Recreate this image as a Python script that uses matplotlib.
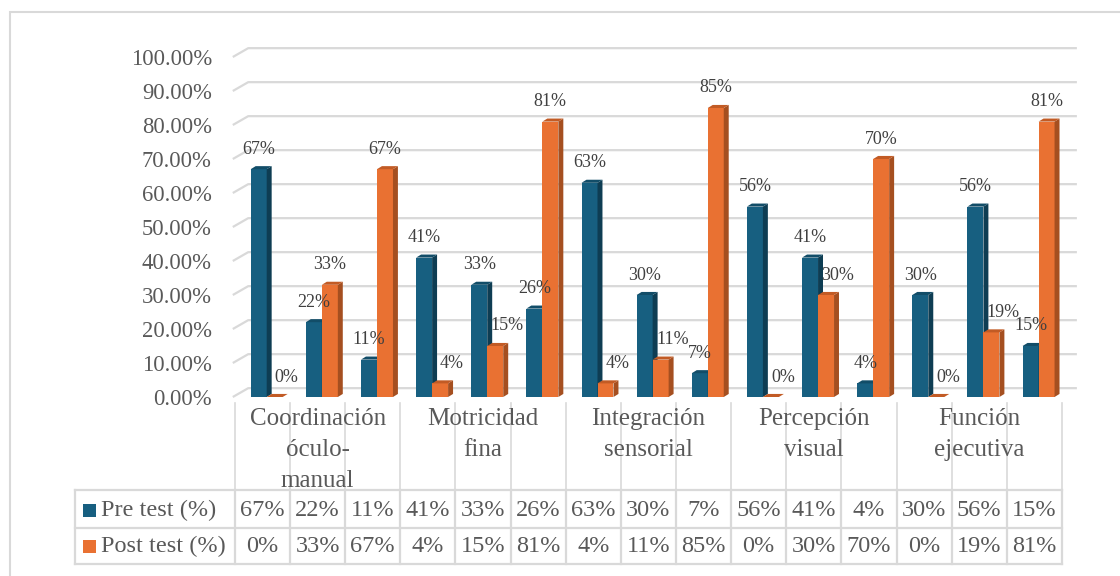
import numpy as np
import matplotlib
matplotlib.use("Agg")
import matplotlib.pyplot as plt
from matplotlib.patches import Rectangle, Polygon

plt.rcParams['font.family'] = ['Liberation Serif', 'DejaVu Serif']

groups = ["Coordinación\nóculo-\nmanual", "Motricidad\nfina", "Integración\nsensorial",
          "Percepción\nvisual", "Función\nejecutiva"]
pre_test = [67, 22, 11, 41, 33, 26, 63, 30, 7, 56, 41, 4, 30, 56, 15]
post_test = [0, 33, 67, 4, 15, 81, 4, 11, 85, 0, 30, 70, 0, 19, 81]
series_names = ["Pre test (%)", "Post test (%)"]
y_ticks = [0, 10, 20, 30, 40, 50, 60, 70, 80, 90, 100]

W, H = 1120, 576
TXT = "#595959"
GRID = "#d9d9d9"
blue = ("#175f80", "#0e3d53", "#124d68")
orange = ("#e97132", "#a54f20", "#c25b25")

fig = plt.figure(figsize=(W / 100, H / 100), dpi=100)

# outer chart frame (cut off at right and bottom like the reference)
fig.patches.append(Rectangle((10 / W, -0.2), 1.3, 1.2 - 12 / H, transform=fig.transFigure,
                             fill=False, edgecolor=GRID, lw=1.5))

ax = fig.add_axes([235 / W, 1 - 397 / H, 827 / W, 340 / H])
ax.set_xlim(0, 15)
ax.set_ylim(0, 100)
ax.axis("off")

# wall gridlines with the perspective slant at the left
for v in y_ticks:
    ax.plot([-0.04, 0.24, 15.27], [v, v + 2.6, v + 2.6], color=GRID, lw=1.6,
            clip_on=False, zorder=1, solid_capstyle="butt")
    ax.text(-0.42, v - 0.8, f"{v:.2f}%", ha="right", va="center", fontsize=16.3, color=TXT)

n = len(pre_test)
x = np.arange(n) + 0.5
bw = 0.29
shift = 0.075
ddx, ddy = 0.09, 0.9


def bar3d(left, val, cols, z):
    ax.bar(left, val, width=bw, align="edge", color=cols[0], zorder=z, linewidth=0)
    r = left + bw
    ax.add_patch(Polygon([(r, 0), (r + ddx, ddy), (r + ddx, val + ddy), (r, val)],
                         closed=True, color=cols[1], zorder=z, lw=0))
    ax.add_patch(Polygon([(left, val), (left + ddx, val + ddy), (r + ddx, val + ddy), (r, val)],
                         closed=True, color=cols[2], zorder=z, lw=0))


for i in range(n):
    bl = x[i] + shift - bw
    ol = x[i] + shift
    bar3d(bl, pre_test[i], blue, 3 + i * 2)
    bar3d(ol, post_test[i], orange, 4 + i * 2)
    ax.annotate(f"{pre_test[i]}%", (bl + bw / 2, pre_test[i]), xytext=(0, 20),
                textcoords="offset pixels", ha="center", va="center", fontsize=13,
                color="#404040", zorder=50)
    dx = 12 if post_test[i] < pre_test[i] else 0
    ax.annotate(f"{post_test[i]}%", (ol + bw / 2, post_test[i]), xytext=(dx, 20),
                textcoords="offset pixels", ha="center", va="center", fontsize=13,
                color="#404040", zorder=50)

# data table and category labels
tab = fig.add_axes([75 / W, 1 - 566 / H, 987 / W, 166 / H])
tab.set_xlim(-2.9, 15)
tab.set_ylim(566, 400)
tab.axis("off")

for k in range(16):
    tab.plot([k, k], [403, 490], color=GRID, lw=1.2, clip_on=False)
for k in [-2.9] + list(range(16)):
    tab.plot([k, k], [490, 564], color=GRID, lw=1.6, clip_on=False)
for yy in [490, 528, 564]:
    tab.plot([-2.9, 15], [yy, yy], color=GRID, lw=1.6, clip_on=False)

for g, name in enumerate(groups):
    tab.text(g * 3 + 1.5, 408, name, ha="center", va="top", fontsize=18,
             color=TXT, linespacing=1.52)

rows_y = [510, 546]
for r, (vals, cols, label) in enumerate(zip([pre_test, post_test], [blue, orange], series_names)):
    tab.add_patch(Rectangle((-2.757, rows_y[r] - 6.5), 0.24, 13, color=cols[0], lw=0))
    tab.text(-2.43, rows_y[r], label, ha="left", va="center", fontsize=17.5, color=TXT)
    for i, v in enumerate(vals):
        tab.text(i + 0.5, rows_y[r], f"{v}%", ha="center", va="center", fontsize=17.5, color=TXT)

fig.savefig("out.png", dpi=100, facecolor="white")
